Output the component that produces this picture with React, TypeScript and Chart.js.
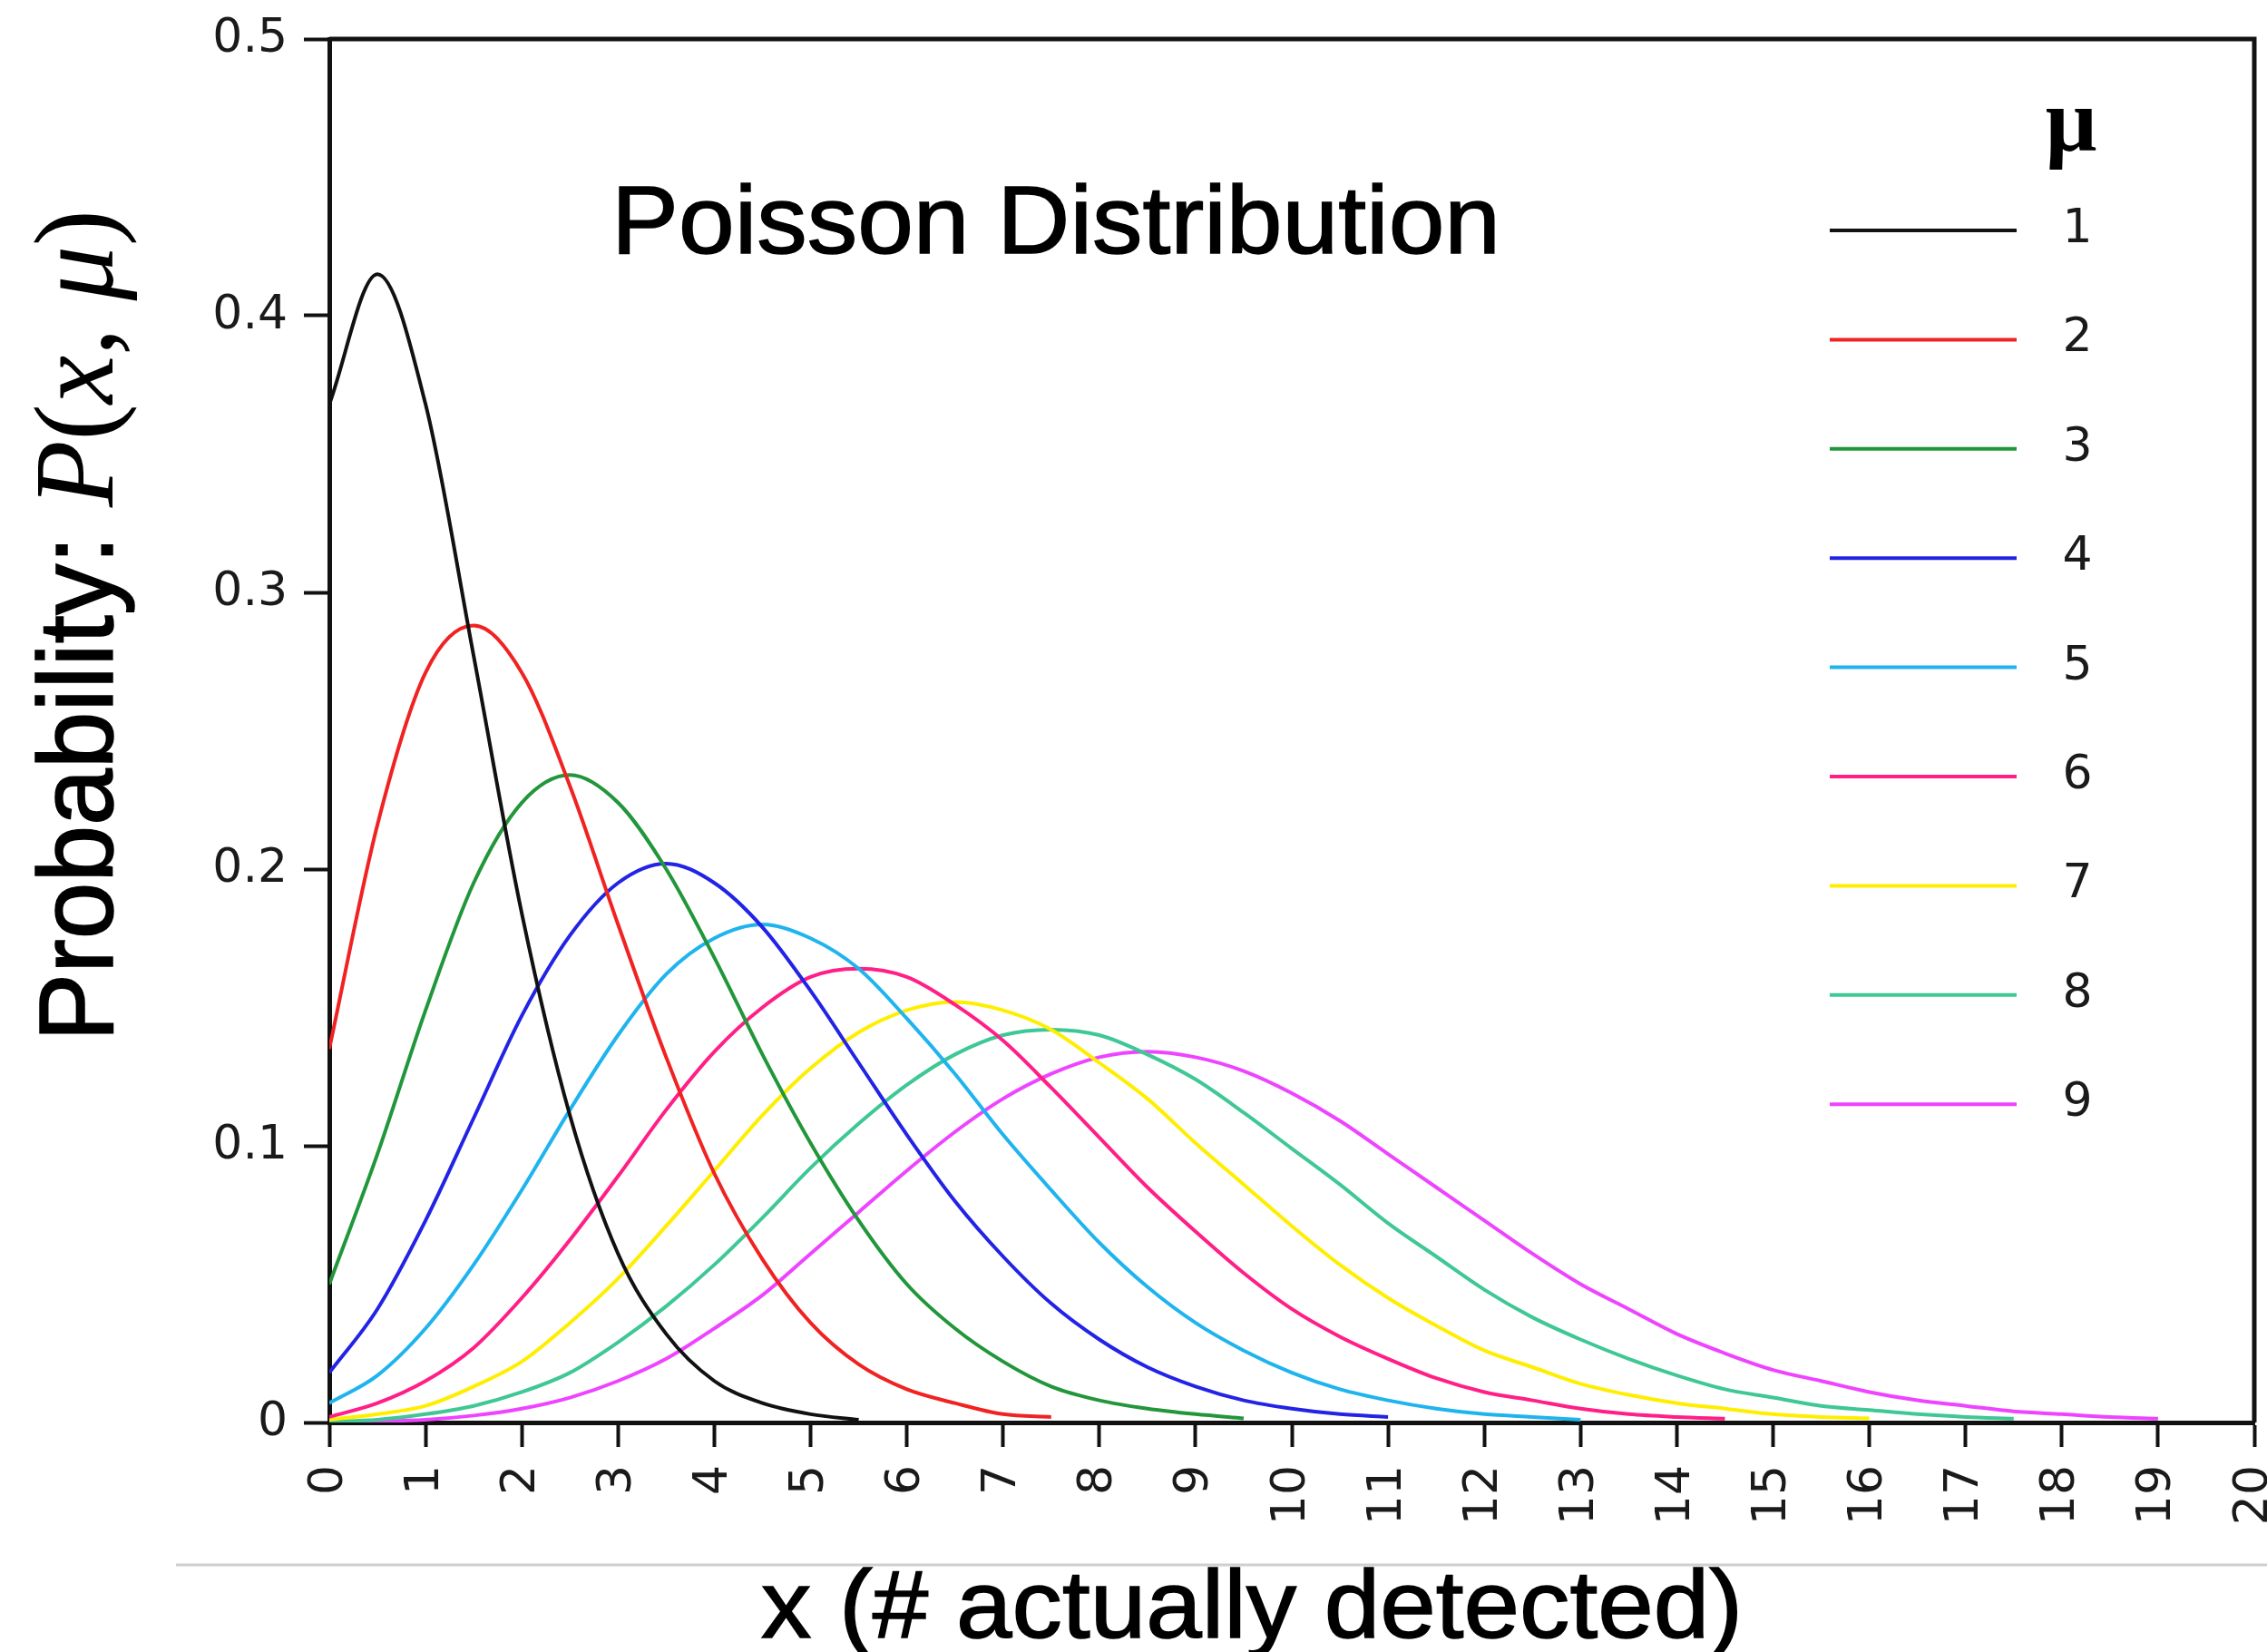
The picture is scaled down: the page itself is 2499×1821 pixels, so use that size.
import React, { useEffect, useRef } from "react";
import { Chart, registerables } from "chart.js";

Chart.register(...registerables);

// x positions shared by every series (step of half a unit)
const xValues = [
  0, 0.5, 1, 1.5, 2, 2.5, 3, 3.5, 4, 4.5, 5, 5.5, 6, 6.5, 7, 7.5, 8, 8.5, 9, 9.5,
  10, 10.5, 11, 11.5, 12, 12.5, 13, 13.5, 14, 14.5, 15, 15.5, 16, 16.5, 17, 17.5,
  18, 18.5, 19, 19.5, 20,
];

const muLabels = ["1", "2", "3", "4", "5", "6", "7", "8", "9"];

const mu1 = [0.368, 0.415, 0.368, 0.277, 0.184, 0.111, 0.061, 0.032, 0.015, 0.007, 0.003, 0.001];
const mu2 = [0.135, 0.216, 0.271, 0.288, 0.271, 0.23, 0.18, 0.132, 0.09, 0.059, 0.036, 0.021, 0.012, 0.007, 0.003, 0.002];
const mu3 = [0.05, 0.097, 0.149, 0.195, 0.224, 0.234, 0.224, 0.2, 0.168, 0.133, 0.101, 0.073, 0.05, 0.034, 0.022, 0.013, 0.008, 0.005, 0.003, 0.0015];
const mu4 = [0.018, 0.041, 0.073, 0.11, 0.147, 0.176, 0.195, 0.202, 0.195, 0.179, 0.156, 0.13, 0.104, 0.08, 0.06, 0.043, 0.03, 0.02, 0.013, 0.008, 0.005, 0.003, 0.002];
const mu5 = [0.007, 0.017, 0.034, 0.057, 0.084, 0.113, 0.14, 0.162, 0.175, 0.18, 0.175, 0.164, 0.146, 0.126, 0.104, 0.084, 0.065, 0.049, 0.036, 0.026, 0.018, 0.012, 0.008, 0.005, 0.003, 0.002, 0.001];
const mu6 = [0.002, 0.007, 0.015, 0.027, 0.045, 0.066, 0.089, 0.113, 0.134, 0.15, 0.161, 0.164, 0.161, 0.151, 0.138, 0.121, 0.103, 0.085, 0.069, 0.054, 0.041, 0.031, 0.023, 0.016, 0.011, 0.008, 0.005, 0.003, 0.002, 0.0014];
const mu7 = [0.001, 0.003, 0.006, 0.013, 0.022, 0.036, 0.052, 0.071, 0.091, 0.111, 0.128, 0.141, 0.149, 0.152, 0.149, 0.142, 0.13, 0.117, 0.101, 0.086, 0.071, 0.057, 0.045, 0.035, 0.026, 0.02, 0.014, 0.01, 0.007, 0.005, 0.003, 0.002, 0.0015];
const mu8 = [0.0003, 0.001, 0.003, 0.006, 0.011, 0.018, 0.029, 0.042, 0.057, 0.074, 0.092, 0.108, 0.122, 0.133, 0.14, 0.142, 0.14, 0.133, 0.124, 0.112, 0.099, 0.086, 0.072, 0.06, 0.048, 0.038, 0.03, 0.023, 0.017, 0.012, 0.009, 0.006, 0.0045, 0.003, 0.002, 0.0014];
const mu9 = [0.0001, 0.0004, 0.001, 0.0025, 0.005, 0.009, 0.015, 0.023, 0.034, 0.046, 0.061, 0.076, 0.091, 0.105, 0.117, 0.126, 0.132, 0.134, 0.132, 0.127, 0.119, 0.109, 0.097, 0.085, 0.073, 0.061, 0.05, 0.041, 0.032, 0.025, 0.019, 0.015, 0.011, 0.008, 0.006, 0.004, 0.003, 0.002, 0.0014];

const seriesValues = [mu1, mu2, mu3, mu4, mu5, mu6, mu7, mu8, mu9];

const seriesColors = [
  "#111111",
  "#f02222",
  "#22963a",
  "#2323e6",
  "#1fb4ee",
  "#ff1f86",
  "#ffee00",
  "#3fc795",
  "#ee44ff",
];

const TITLE = "Poisson Distribution";
const X_TITLE = "x (# actually detected)";

const overlayPlugin = {
  id: "overlay",
  afterDraw(chart: any) {
    const ctx: CanvasRenderingContext2D = chart.ctx;
    const a = chart.chartArea;
    ctx.save();

    // frame: top and right sides
    ctx.strokeStyle = "#111";
    ctx.lineWidth = 5;
    ctx.beginPath();
    ctx.moveTo(a.left, a.top);
    ctx.lineTo(a.right, a.top);
    ctx.lineTo(a.right, a.bottom);
    ctx.stroke();

    // separator line above x title
    ctx.strokeStyle = "#cfcfcf";
    ctx.lineWidth = 3;
    ctx.beginPath();
    ctx.moveTo(194, 1725);
    ctx.lineTo(2499, 1725);
    ctx.stroke();

    ctx.fillStyle = "#000";
    ctx.textBaseline = "alphabetic";
    ctx.textAlign = "left";

    const fitText = (text: string, font: string, left: number, baseline: number, width: number) => {
      ctx.font = font;
      const w = ctx.measureText(text).width;
      ctx.save();
      ctx.translate(left, baseline);
      ctx.scale(width / w, 1);
      ctx.fillText(text, 0, 0);
      ctx.strokeStyle = "#000";
      ctx.lineWidth = 1.5;
      ctx.strokeText(text, 0, 0);
      ctx.restore();
    };

    // main title
    fitText(TITLE, "106px 'Liberation Sans', Arial, sans-serif", 674, 279, 980);
    // x title
    fitText(X_TITLE, "106px 'Liberation Sans', Arial, sans-serif", 839, 1805, 1082);

    // y title (rotated), mixed fonts
    const pieces = [
      { t: "Probability: ", f: "116px 'Liberation Sans', Arial, sans-serif", s: true },
      { t: "P", f: "italic 124px 'Liberation Serif', serif", s: false },
      { t: "(", f: "124px 'Liberation Serif', serif", s: false },
      { t: "x", f: "italic 124px 'Liberation Serif', serif", s: false },
      { t: ",", f: "124px 'Liberation Serif', serif", s: false },
      { t: " ", f: "124px 'Liberation Serif', serif", s: false },
      { t: "\u03bc", f: "italic 124px 'Liberation Serif', serif", s: false },
      { t: ")", f: "124px 'Liberation Serif', serif", s: false },
    ];
    let total = 0;
    const widths = pieces.map((p) => {
      ctx.font = p.f;
      const w = ctx.measureText(p.t).width;
      total += w;
      return w;
    });
    ctx.save();
    ctx.translate(124, 1148);
    ctx.rotate(-Math.PI / 2);
    ctx.scale(917 / total, 1);
    let pos = 0;
    pieces.forEach((p, i) => {
      ctx.font = p.f;
      ctx.fillText(p.t, pos, 0);
      if (p.s) {
        ctx.strokeStyle = "#000";
        ctx.lineWidth = 1.5;
        ctx.strokeText(p.t, pos, 0);
      }
      pos += widths[i];
    });
    ctx.restore();

    // legend
    ctx.font = "bold 100px 'Liberation Serif', serif";
    ctx.textAlign = "center";
    ctx.fillText("\u03bc", 2283, 166);
    chart.data.datasets.forEach((ds: any, i: number) => {
      const y = 254 + i * 120.4;
      ctx.strokeStyle = ds.borderColor;
      ctx.lineWidth = 4;
      ctx.beginPath();
      ctx.moveTo(2017, y);
      ctx.lineTo(2223, y);
      ctx.stroke();
      ctx.fillStyle = "#1a1a1a";
      ctx.font = "52px 'DejaVu Sans', sans-serif";
      ctx.textAlign = "center";
      ctx.fillText(ds.label, 2290, y + 13);
    });

    ctx.restore();
  },
};

export default function App() {
  const canvasRef = useRef<HTMLCanvasElement | null>(null);

  useEffect(() => {
    if (!canvasRef.current) return;
    const tickFont = { family: "'DejaVu Sans', sans-serif", size: 52 };
    const chart = new Chart(canvasRef.current, {
      type: "line",
      data: {
        datasets: seriesValues.map((vals, i) => ({
          label: muLabels[i],
          data: vals.map((y, j) => ({ x: xValues[j], y })),
          borderColor: seriesColors[i],
          backgroundColor: seriesColors[i],
          borderWidth: 4,
          pointRadius: 0,
          fill: false,
          cubicInterpolationMode: "monotone" as const,
        })),
      },
      options: {
        responsive: false,
        animation: false,
        devicePixelRatio: 1,
        events: [],
        layout: { padding: { top: 43, left: 0, right: 14, bottom: 0 } },
        plugins: {
          legend: { display: false },
          tooltip: { enabled: false },
          title: { display: false },
        },
        scales: {
          x: {
            type: "linear",
            min: 0,
            max: 20,
            ticks: {
              stepSize: 1,
              autoSkip: false,
              minRotation: 90,
              maxRotation: 90,
              padding: 20,
              font: tickFont,
              color: "#1a1a1a",
            },
            grid: {
              display: true,
              drawOnChartArea: false,
              drawTicks: true,
              tickLength: 27,
              tickWidth: 4,
              tickColor: "#111",
            },
            border: { display: true, color: "#111", width: 5 },
            afterFit(scale: any) {
              scale.height = 253;
              scale.paddingLeft = 0;
              scale.paddingRight = 0;
            },
          },
          y: {
            type: "linear",
            min: 0,
            max: 0.5,
            ticks: {
              stepSize: 0.1,
              padding: 18,
              font: tickFont,
              color: "#1a1a1a",
            },
            grid: {
              display: true,
              drawOnChartArea: false,
              drawTicks: true,
              tickLength: 28,
              tickWidth: 4,
              tickColor: "#111",
            },
            border: { display: true, color: "#111", width: 5 },
            afterFit(scale: any) {
              scale.width = 363;
              scale.paddingTop = 0;
              scale.paddingBottom = 0;
            },
          },
        },
      },
      plugins: [overlayPlugin],
    });
    return () => chart.destroy();
  }, []);

  return (
    <div style={{ position: "fixed", left: 0, top: 0, width: 2499, height: 1821, background: "#fff" }}>
      <canvas ref={canvasRef} width={2499} height={1821} style={{ display: "block", width: 2499, height: 1821 }} />
    </div>
  );
}
